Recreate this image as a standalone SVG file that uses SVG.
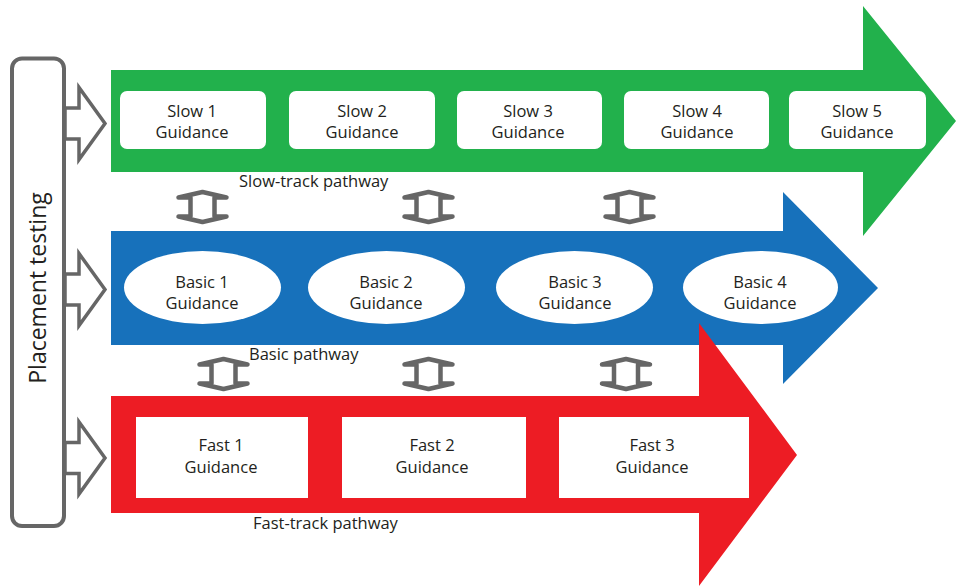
<svg xmlns="http://www.w3.org/2000/svg" width="956" height="586" viewBox="0 0 956 586">
<style>
  text { font-family: "Open Sans", "Liberation Sans", sans-serif; fill: #231f20; }
  .lbl { font-size: 16.5px; text-anchor: middle; }
  .path-lbl { font-size: 16.5px; }
  .box { fill: #ffffff; }
  .conn { fill: #ffffff; stroke: #666666; stroke-width: 4.5; stroke-linejoin: round; }
  .inarr { fill: #ffffff; stroke: #666666; stroke-width: 3.5; stroke-linejoin: miter; }
</style>
<defs>
  <polygon id="dbl" points="0,-15 24,-9.5 12,-9.5 12,9.5 24,9.5 0,15 -24,9.5 -12,9.5 -12,-9.5 -24,-9.5"/>
  <polygon id="inA" points="0,-15.5 14,-15.5 14,-36 40,0 14,36 14,15.5 0,15.5"/>
</defs>

<g id="placement">
  <rect x="12" y="58.5" width="52" height="467.5" rx="10" fill="#ffffff" stroke="#666666" stroke-width="4"/>
  <text x="46" y="288" font-size="23" text-anchor="middle" transform="rotate(-90 46 288)">Placement testing</text>
</g>

<g id="slow-track">
  <polygon fill="#22b14c" points="111,70 863,70 863,6 956,121 863,236 863,172 111,172"/>
  <text class="path-lbl" x="239" y="187">Slow-track pathway</text>
</g>
<g id="slow1"><rect class="box" x="120" y="91" width="146" height="58" rx="7"/><text class="lbl" x="192" y="117">Slow 1</text><text class="lbl" x="192" y="138">Guidance</text></g>
<g id="slow2"><rect class="box" x="289" y="91" width="146" height="58" rx="7"/><text class="lbl" x="362" y="117">Slow 2</text><text class="lbl" x="362" y="138">Guidance</text></g>
<g id="slow3"><rect class="box" x="457" y="91" width="145" height="58" rx="7"/><text class="lbl" x="528" y="117">Slow 3</text><text class="lbl" x="528" y="138">Guidance</text></g>
<g id="slow4"><rect class="box" x="624" y="91" width="145" height="58" rx="7"/><text class="lbl" x="697" y="117">Slow 4</text><text class="lbl" x="697" y="138">Guidance</text></g>
<g id="slow5"><rect class="box" x="789" y="91" width="137" height="58" rx="7"/><text class="lbl" x="857" y="117">Slow 5</text><text class="lbl" x="857" y="138">Guidance</text></g>

<g id="basic">
  <polygon fill="#1771bb" points="111,231 783,231 783,192 878,288 783,384 783,345 111,345"/>
  <text class="path-lbl" x="249" y="360">Basic pathway</text>
</g>
<g id="basic1"><ellipse class="box" cx="202.5" cy="287.5" rx="78.5" ry="36.5"/><text class="lbl" x="202" y="288">Basic 1</text><text class="lbl" x="202" y="309">Guidance</text></g>
<g id="basic2"><ellipse class="box" cx="386.5" cy="287.5" rx="78.5" ry="36.5"/><text class="lbl" x="386" y="288">Basic 2</text><text class="lbl" x="386" y="309">Guidance</text></g>
<g id="basic3"><ellipse class="box" cx="574.5" cy="287.5" rx="78.5" ry="36.5"/><text class="lbl" x="575" y="288">Basic 3</text><text class="lbl" x="575" y="309">Guidance</text></g>
<g id="basic4"><ellipse class="box" cx="760.5" cy="287.5" rx="77.5" ry="36.5"/><text class="lbl" x="760" y="288">Basic 4</text><text class="lbl" x="760" y="309">Guidance</text></g>

<g id="fast-track">
  <polygon fill="#ed1c24" points="111,396 699,396 699,323 797,455 699,586 699,513 111,513"/>
  <text class="path-lbl" x="253" y="529">Fast-track pathway</text>
</g>
<g id="fast1"><rect class="box" x="136" y="417" width="172" height="81"/><text class="lbl" x="221" y="451">Fast 1</text><text class="lbl" x="221" y="473">Guidance</text></g>
<g id="fast2"><rect class="box" x="342" y="417" width="184" height="81"/><text class="lbl" x="432" y="451">Fast 2</text><text class="lbl" x="432" y="473">Guidance</text></g>
<g id="fast3"><rect class="box" x="559" y="417" width="190" height="81"/><text class="lbl" x="652" y="451">Fast 3</text><text class="lbl" x="652" y="473">Guidance</text></g>

<g id="connectors">
  <use href="#inA" class="inarr" x="65" y="123.5"/>
  <use href="#inA" class="inarr" x="65" y="289.5"/>
  <use href="#inA" class="inarr" x="65" y="458"/>
  <use href="#dbl" class="conn" x="202.5" y="207"/>
  <use href="#dbl" class="conn" x="428.5" y="207"/>
  <use href="#dbl" class="conn" x="629.5" y="207"/>
  <use href="#dbl" class="conn" x="223.5" y="374"/>
  <use href="#dbl" class="conn" x="428.5" y="374"/>
  <use href="#dbl" class="conn" x="626" y="374"/>
</g>
</svg>
